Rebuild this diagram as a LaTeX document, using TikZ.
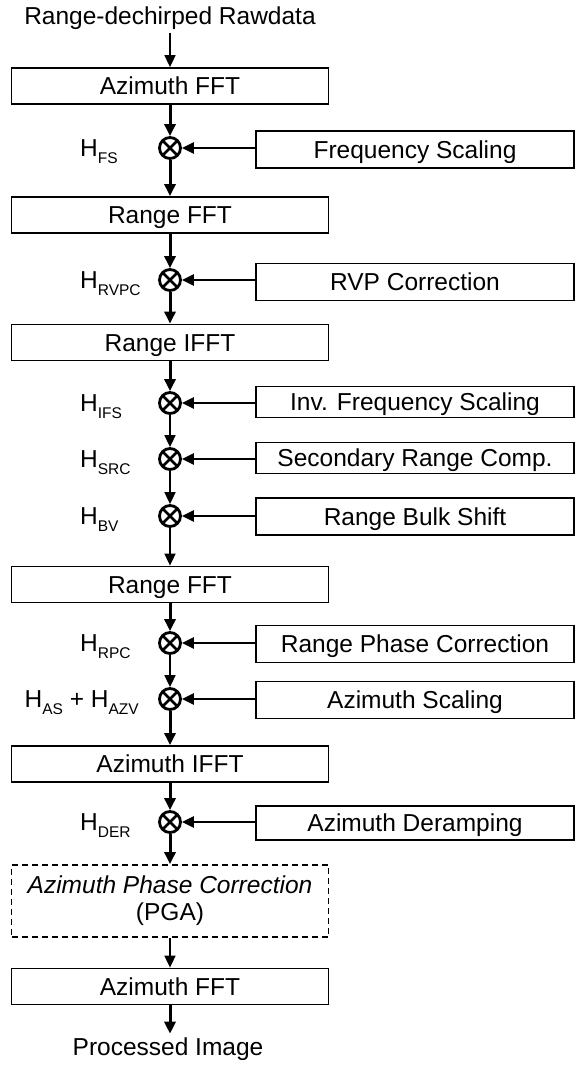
\documentclass[tikz,border=0pt]{standalone}
\usepackage{fontspec}
\setmainfont{Liberation Sans}
\usetikzlibrary{arrows.meta}
\newcommand{\hsub}[1]{H\raisebox{-6.5pt}{\fontsize{15.5}{15.5}\selectfont #1}}
\begin{document}
\begin{tikzpicture}[x=1pt,y=-1pt,
  every node/.style={font=\fontsize{24.5}{28}\selectfont},
  mainbox/.style={draw, line width=1.8pt, minimum width=317pt, minimum height=36pt, inner sep=0pt, text height=17pt, text depth=0pt},
  sidebox/.style={draw, line width=1.8pt, minimum width=318pt, minimum height=37pt, inner sep=0pt, text height=17pt, text depth=0pt},
  dbox/.style={draw, line width=1.8pt, dash pattern=on 6pt off 4pt, minimum width=317pt, minimum height=72pt, inner sep=0pt, align=center, font=\fontsize{24.5}{27}\selectfont},
  mult/.style={circle, draw, line width=2.8pt, minimum size=21pt, inner sep=0pt,
    path picture={\draw[line width=2.6pt] (path picture bounding box.south west) -- (path picture bounding box.north east) (path picture bounding box.north west) -- (path picture bounding box.south east);}},
  thk/.style={line width=3pt, -{Triangle[length=12pt,width=11pt]}},
  thn/.style={line width=1.7pt, -{Triangle[length=12pt,width=11pt]}},
  hor/.style={line width=2.6pt, -{Triangle[length=12pt,width=11pt]}},
  lbl/.style={anchor=base west, inner sep=0pt},
]
\fill[white] (0,0) rectangle (581,1066);
\useasboundingbox (0,0) rectangle (581,1066);

% main column
\node[anchor=base] (src) at (170,24) {Range-dechirped Rawdata};
\node[mainbox] (b1) at (170,86) {Azimuth FFT};
\node[mult] (m1) at (170,148) {};
\node[mainbox] (b2) at (170,215) {Range FFT};
\node[mult] (m2) at (170,280) {};
\node[mainbox] (b3) at (170,342.5) {Range IFFT};
\node[mult] (m3) at (170,403) {};
\node[mult] (m4) at (170,459) {};
\node[mult] (m5) at (170,516) {};
\node[mainbox] (b4) at (170,584.5) {Range FFT};
\node[mult] (m6) at (170,643) {};
\node[mult] (m7) at (170,699) {};
\node[mainbox] (b5) at (170,764) {Azimuth IFFT};
\node[mult] (m8) at (170,822) {};
\node[dbox] (b6) at (170,901) {{\itshape Azimuth Phase Correction}\\(PGA)};
\node[mainbox] (b7) at (170,986.5) {Azimuth FFT};
\node[anchor=base] (out) at (168,1055) {Processed Image};

% side boxes
\node[sidebox] (s1) at (415,149.5) {Frequency Scaling};
\node[sidebox] (s2) at (415,282) {RVP Correction};
\node[sidebox, minimum height=31pt] (s3) at (415,402) {Inv. Frequency Scaling};
\node[sidebox, minimum height=31pt] (s4) at (415,458) {Secondary Range Comp.};
\node[sidebox] (s5) at (415,516.5) {Range Bulk Shift};
\node[sidebox] (s6) at (415,644) {Range Phase Correction};
\node[sidebox] (s7) at (415,700) {Azimuth Scaling};
\node[sidebox, minimum height=34pt] (s8) at (415,823) {Azimuth Deramping};

% labels
\node[lbl] (l1) at (80,156.5) {\hsub{FS}};
\node[lbl] (l2) at (80,288.5) {\hsub{RVPC}};
\node[lbl] (l3) at (80,411.5) {\hsub{IFS}};
\node[lbl] (l4) at (80,467.5) {\hsub{SRC}};
\node[lbl] (l5) at (80,524.5) {\hsub{BV}};
\node[lbl] (l6) at (80,651.5) {\hsub{RPC}};
\node[anchor=base east, inner sep=0pt] (l7) at (139,707.5) {\hsub{AS} + \hsub{AZV}};
\node[lbl] (l8) at (80,830.5) {\hsub{DER}};

% vertical flow
\draw[thn] (src) -- (b1);
\draw[thk] (b1) -- (m1);
\draw[thk] (m1) -- (b2);
\draw[thk] (b2) -- (m2);
\draw[thk] (m2) -- (b3);
\draw[thk] (b3) -- (m3);
\draw[thn] (m3) -- (m4);
\draw[thn] (m4) -- (m5);
\draw[thn] (m5) -- (b4);
\draw[thk] (b4) -- (m6);
\draw[thn] (m6) -- (m7);
\draw[thk] (m7) -- (b5);
\draw[thk] (b5) -- (m8);
\draw[thk] (m8) -- (b6);
\draw[thn] (b6) -- (b7);
\draw[thk] (b7) -- (b7 |- out.north);

% side inputs
\draw[hor] (s1.west |- m1) -- (m1.east);
\draw[hor] (s2.west |- m2) -- (m2.east);
\draw[hor] (s3.west |- m3) -- (m3.east);
\draw[hor] (s4.west |- m4) -- (m4.east);
\draw[hor] (s5.west |- m5) -- (m5.east);
\draw[hor] (s6.west |- m6) -- (m6.east);
\draw[hor] (s7.west |- m7) -- (m7.east);
\draw[hor] (s8.west |- m8) -- (m8.east);
\end{tikzpicture}
\end{document}
